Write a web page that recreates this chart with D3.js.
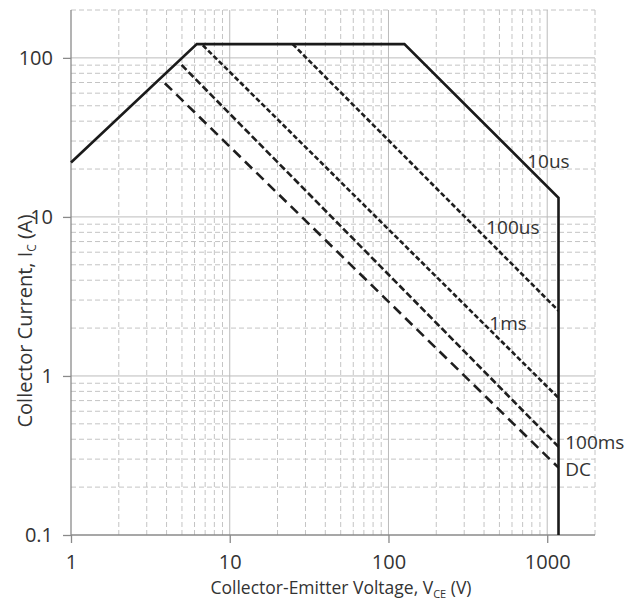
<!DOCTYPE html>
<html>
<head>
<meta charset="utf-8">
<script src="https://cdn.jsdelivr.net/npm/d3@7"></script>
<style>
  html, body { margin: 0; padding: 0; background: #fff; }
  svg text { font-family: "Open Sans", sans-serif; fill: #333; }
</style>
</head>
<body>
<svg id="chart" width="642" height="606"></svg>
<script>
// Axis ranges and ticks
const xDomain = [1, 2000];
const yDomain = [0.1, 200];
const xTickValues = [1, 10, 100, 1000];
const xTickLabels = ["1", "10", "100", "1000"];
const yTickValues = [0.1, 1, 10, 100];
const yTickLabels = ["0.1", "1", "10", "100"];

// SOA boundary (10us, solid)
const soaV = [1, 6.2, 126, 1178, 1178];
const soaI = [22, 122, 122, 13.2, 0.1];

// Dashed pulse limits: start and end points
const pulseNames = ["100us", "1ms", "100ms", "DC"];
const pulseV = [[24.9, 1178], [6.77, 1178], [4.97, 1178], [3.9, 1178]];
const pulseI = [[122, 2.57], [120, 0.728], [90.3, 0.359], [69.3, 0.265]];

// Curve labels (left edge / middle of text)
const labelText = ["10us", "100us", "1ms", "100ms", "DC"];
const labelV = [748, 413, 432, 1298, 1298];
const labelI = [22.2, 8.65, 2.15, 0.385, 0.257];

const svg = d3.select("#chart");
const margin = { left: 71, right: 47, top: 10, bottom: 71 };
const width = 642, height = 606;

const x = d3.scaleLog().domain(xDomain).range([margin.left, width - margin.right]);
const y = d3.scaleLog().domain(yDomain).range([height - margin.bottom, margin.top]);

// minor / major grid values
const xMinor = [], yMinor = [];
[1, 10, 100, 1000].forEach(d => {
  for (let k = 2; k <= 9; k++) if (d * k <= xDomain[1] + 1e-9) xMinor.push(d * k);
});
[0.1, 1, 10, 100].forEach(d => {
  for (let k = 2; k <= 9; k++) if (d * k <= yDomain[1] + 1e-9) yMinor.push(d * k);
});

const grid = svg.append("g");
grid.selectAll("line.xminor").data(xMinor).join("line")
  .attr("x1", d => x(d)).attr("x2", d => x(d))
  .attr("y1", y(yDomain[0])).attr("y2", y(yDomain[1]))
  .attr("stroke", "#c4c4c4").attr("stroke-width", 1).attr("stroke-dasharray", "5,3");
grid.selectAll("line.yminor").data(yMinor).join("line")
  .attr("y1", d => y(d)).attr("y2", d => y(d))
  .attr("x1", x(xDomain[0])).attr("x2", x(xDomain[1]))
  .attr("stroke", "#c4c4c4").attr("stroke-width", 1).attr("stroke-dasharray", "5,3");
grid.selectAll("line.xmajor").data(xTickValues.slice(1)).join("line")
  .attr("x1", d => x(d)).attr("x2", d => x(d))
  .attr("y1", y(yDomain[0])).attr("y2", y(yDomain[1]))
  .attr("stroke", "#bcbcbc").attr("stroke-width", 1);
grid.selectAll("line.ymajor").data(yTickValues.slice(1)).join("line")
  .attr("y1", d => y(d)).attr("y2", d => y(d))
  .attr("x1", x(xDomain[0])).attr("x2", x(xDomain[1]))
  .attr("stroke", "#bcbcbc").attr("stroke-width", 1);

// Axes
const xAxis = d3.axisBottom(x).tickValues(xTickValues)
  .tickFormat((d, i) => xTickLabels[i]).tickSize(8).tickPadding(12);
const yAxis = d3.axisLeft(y).tickValues(yTickValues)
  .tickFormat((d, i) => yTickLabels[i]).tickSize(8).tickPadding(10);

const gx = svg.append("g").attr("transform", `translate(0,${y(yDomain[0])})`).call(xAxis);
const gy = svg.append("g").attr("transform", `translate(${x(xDomain[0])},0)`).call(yAxis);
[gx, gy].forEach(g => {
  g.select(".domain").attr("stroke", "#8a8a8a").attr("stroke-width", 1.3);
  g.selectAll(".tick line").attr("stroke", "#8a8a8a").attr("stroke-width", 1.3);
  g.selectAll(".tick text").attr("font-size", 20).attr("fill", "#333")
    .attr("font-family", "Open Sans, sans-serif");
});
gx.select(".domain").attr("d", `M${x(xDomain[0])},0H${x(xDomain[1])}`);
gy.select(".domain").attr("d", `M0,${y(yDomain[0])}V${y(yDomain[1])}`);

// Curves
const line = d3.line().x(d => x(d[0])).y(d => y(d[1]));

const dashes = ["5,2.5", "5,2.5", "7,3", "10,6"];
pulseNames.forEach((name, i) => {
  const pts = pulseV[i].map((v, j) => [v, pulseI[i][j]]);
  svg.append("path").datum(pts)
    .attr("d", line)
    .attr("fill", "none").attr("stroke", "#1e1e1e")
    .attr("stroke-width", 2.6).attr("stroke-dasharray", dashes[i]);
});

svg.append("path").datum(soaV.map((v, i) => [v, soaI[i]]))
  .attr("d", line)
  .attr("fill", "none").attr("stroke", "#1a1a1a")
  .attr("stroke-width", 2.6).attr("stroke-linejoin", "miter");

// Curve labels
svg.selectAll("text.curve").data(labelText).join("text")
  .attr("class", "curve")
  .attr("x", (d, i) => x(labelV[i]))
  .attr("y", (d, i) => y(labelI[i]))
  .attr("dy", "0.35em")
  .attr("font-size", 19)
  .attr("fill", "#333")
  .text(d => d);

// Axis titles
const xt = svg.append("text")
  .attr("x", 341).attr("y", 594)
  .attr("text-anchor", "middle").attr("font-size", 17.5);
xt.append("tspan").text("Collector-Emitter Voltage, V");
xt.append("tspan").attr("font-size", 11).attr("dy", 4).text("CE");
xt.append("tspan").attr("dy", -4).text(" (V)");

const yt = svg.append("text")
  .attr("transform", "translate(32,321) rotate(-90)")
  .attr("text-anchor", "middle").attr("font-size", 20);
yt.append("tspan").text("Collector Current, I");
yt.append("tspan").attr("font-size", 12).attr("dy", 4).text("C");
yt.append("tspan").attr("dy", -4).text(" (A)");
</script>
</body>
</html>
